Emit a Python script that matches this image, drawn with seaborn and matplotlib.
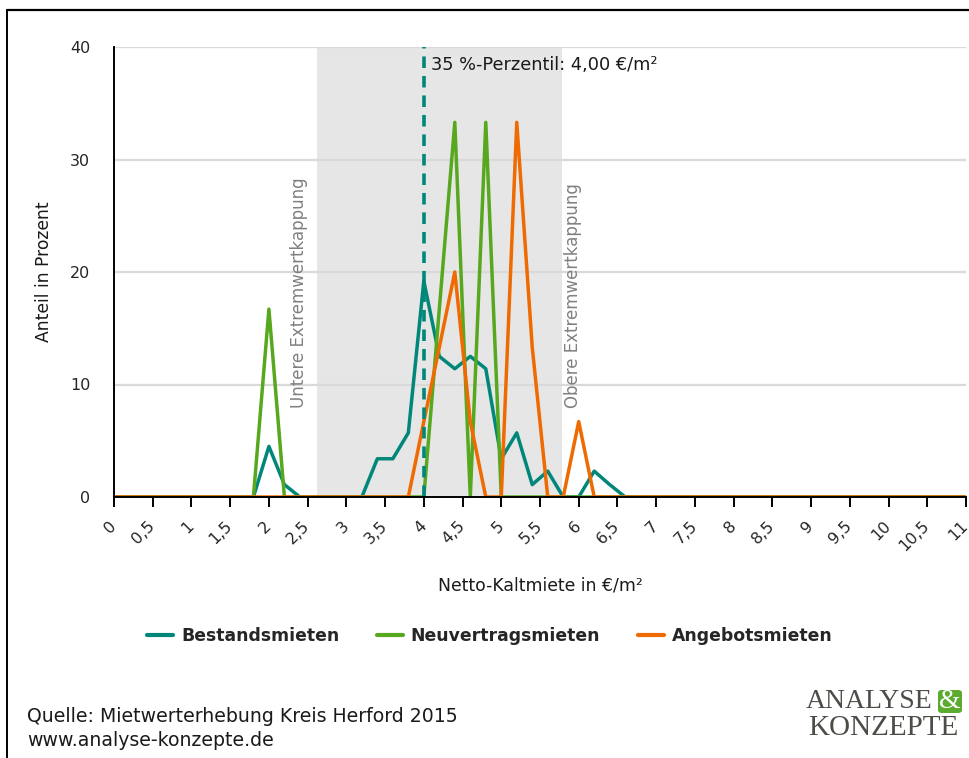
import matplotlib
matplotlib.use("Agg")
import matplotlib.pyplot as plt
from matplotlib.lines import Line2D
from matplotlib.patches import FancyBboxPatch
import seaborn as sns
import pandas as pd

# ---------------- data ----------------
miete = [0.0, 0.2, 0.4, 0.6, 0.8, 1.0, 1.2, 1.4, 1.6, 1.8,
         2.0, 2.2, 2.4, 2.6, 2.8, 3.0, 3.2, 3.4, 3.6, 3.8,
         4.0, 4.2, 4.4, 4.6, 4.8, 5.0, 5.2, 5.4, 5.6, 5.8,
         6.0, 6.2, 6.4, 6.6, 6.8, 7.0, 7.2, 7.4, 7.6, 7.8,
         8.0, 8.2, 8.4, 8.6, 8.8, 9.0, 9.2, 9.4, 9.6, 9.8,
         10.0, 10.2, 10.4, 10.6, 10.8, 11.0]

bestandsmieten = [0, 0, 0, 0, 0, 0, 0, 0, 0, 0,
                  4.5, 1.1, 0, 0, 0, 0, 0, 3.4, 3.4, 5.7,
                  19.2, 12.5, 11.4, 12.5, 11.4, 3.4, 5.7, 1.1, 2.3, 0,
                  0, 2.3, 1.1, 0, 0, 0, 0, 0, 0, 0,
                  0, 0, 0, 0, 0, 0, 0, 0, 0, 0,
                  0, 0, 0, 0, 0, 0]

neuvertragsmieten = [0, 0, 0, 0, 0, 0, 0, 0, 0, 0,
                     16.7, 0, 0, 0, 0, 0, 0, 0, 0, 0,
                     0, 16.7, 33.3, 0, 33.3, 0, 0, 0, 0, 0,
                     0, 0, 0, 0, 0, 0, 0, 0, 0, 0,
                     0, 0, 0, 0, 0, 0, 0, 0, 0, 0,
                     0, 0, 0, 0, 0, 0]

angebotsmieten = [0, 0, 0, 0, 0, 0, 0, 0, 0, 0,
                  0, 0, 0, 0, 0, 0, 0, 0, 0, 0,
                  6.7, 13.3, 20.0, 6.7, 0, 0, 33.3, 13.3, 0, 0,
                  6.7, 0, 0, 0, 0, 0, 0, 0, 0, 0,
                  0, 0, 0, 0, 0, 0, 0, 0, 0, 0,
                  0, 0, 0, 0, 0, 0]

series_names = ["Bestandsmieten", "Neuvertragsmieten", "Angebotsmieten"]
series_colors = ["#00877a", "#57a81e", "#ef6a00"]

x_ticks = [0, 0.5, 1, 1.5, 2, 2.5, 3, 3.5, 4, 4.5, 5, 5.5, 6, 6.5, 7, 7.5,
           8, 8.5, 9, 9.5, 10, 10.5, 11]
x_tick_labels = ["0", "0,5", "1", "1,5", "2", "2,5", "3", "3,5", "4", "4,5",
                 "5", "5,5", "6", "6,5", "7", "7,5", "8", "8,5", "9", "9,5",
                 "10", "10,5", "11"]
y_ticks = [0, 10, 20, 30, 40]

kappung_unten = 2.62
kappung_oben = 5.78
perzentil = 4.0
perzentil_label = "35 %-Perzentil: 4,00 €/m²"

df = pd.DataFrame({
    "Miete": miete * 3,
    "Anteil": bestandsmieten + neuvertragsmieten + angebotsmieten,
    "Serie": [series_names[0]] * len(miete) + [series_names[1]] * len(miete)
             + [series_names[2]] * len(miete),
})

# ---------------- plot ----------------
sns.set_theme(style="white")
plt.rcParams["font.family"] = ["DejaVu Sans"]

fig = plt.figure(figsize=(9.7, 7.58), dpi=100)
ax = fig.add_axes([114 / 970, 1 - 497 / 758, (966 - 114) / 970, (497 - 47) / 758])

ax.axvspan(kappung_unten, kappung_oben, color="#e6e6e6", zorder=0, lw=0)
for yv in y_ticks[1:]:
    ax.axhline(yv, color="#d9d9d9", lw=1.6, zorder=0.5)

sns.lineplot(data=df, x="Miete", y="Anteil", hue="Serie", palette=series_colors,
             hue_order=series_names, linewidth=2.5, ax=ax, legend=False, zorder=3)

ax.plot([perzentil, perzentil], [0, 40], color=series_colors[0], lw=2.6,
        ls=(0, (3.2, 2.2)), zorder=4)
ax.text(perzentil + 0.09, 38.4, perzentil_label, fontsize=12.8, color="#1a1a1a",
        ha="left", va="center", zorder=5)

ax.text(kappung_unten - 0.23, 7.9, "Untere Extremwertkappung", rotation=90,
        color="#808080", fontsize=12.0, ha="center", va="bottom", zorder=2)
ax.text(kappung_oben + 0.15, 7.9, "Obere Extremwertkappung", rotation=90,
        color="#808080", fontsize=12.0, ha="center", va="bottom", zorder=2)

ax.set_xlim(0, 11)
ax.set_ylim(0, 40)
ax.set_xticks(x_ticks)
ax.set_xticklabels(x_tick_labels, rotation=45, ha="right", va="center",
                   rotation_mode="anchor", fontsize=11.5)
ax.set_yticks(y_ticks)
ax.set_yticklabels([str(v) for v in y_ticks], fontsize=11.5)
ax.tick_params(axis="x", direction="out", length=7, width=1.4, color="black",
               pad=12, bottom=True)
ax.tick_params(axis="y", length=0, pad=17)
for s in ["top", "right"]:
    ax.spines[s].set_visible(False)
for s in ["left", "bottom"]:
    ax.spines[s].set_color("black")
    ax.spines[s].set_linewidth(1.4)
    ax.spines[s].set_zorder(6)
ax.set_xlabel("Netto-Kaltmiete in €/m²", fontsize=12.4, labelpad=16, color="#1a1a1a")
ax.set_ylabel("Anteil in Prozent", fontsize=12.3, labelpad=12, color="#1a1a1a")

handles = [Line2D([0], [0], color=c, lw=3) for c in series_colors]
fig.legend(handles, series_names, loc="center", bbox_to_anchor=(0.505, 1 - 636 / 758),
           ncol=3, frameon=False, handlelength=1.5, columnspacing=2.2,
           handletextpad=0.45, prop={"weight": "bold", "size": 12.4})

# source text
fig.text(27 / 970, 1 - 716 / 758, "Quelle: Mietwerterhebung Kreis Herford 2015",
         fontsize=13.6, ha="left", va="center", color="#1a1a1a")
fig.text(27 / 970, 1 - 740 / 758, "www.analyse-konzepte.de",
         fontsize=13.6, ha="left", va="center", color="#1a1a1a")

# logo
logo_col = "#4d4d48"
fig.text(932 / 970, 1 - 701 / 758, "ANALYSE", family="Liberation Serif",
         fontsize=20, ha="right", va="center", color=logo_col)
fig.text(958 / 970, 1 - 728 / 758, "KONZEPTE", family="Liberation Serif",
         fontsize=21, ha="right", va="center", color=logo_col)
box = FancyBboxPatch((938 / 970, 1 - 713 / 758), 24 / 970, 23 / 758,
                     boxstyle="round,pad=0,rounding_size=0.004",
                     transform=fig.transFigure, color="#5aab2e", lw=0)
fig.add_artist(box)
fig.text(950 / 970, 1 - 702 / 758, "&", family="Liberation Serif",
         fontsize=20, ha="center", va="center", color="white")

# frame lines (top and left)
fig.add_artist(Line2D([7 / 970, 1.0], [1 - 10 / 758, 1 - 10 / 758],
                      transform=fig.transFigure, color="black", lw=1.6))
fig.add_artist(Line2D([7 / 970, 7 / 970], [0, 1 - 10 / 758],
                      transform=fig.transFigure, color="black", lw=1.4))

fig.savefig("out.png", dpi=100)
